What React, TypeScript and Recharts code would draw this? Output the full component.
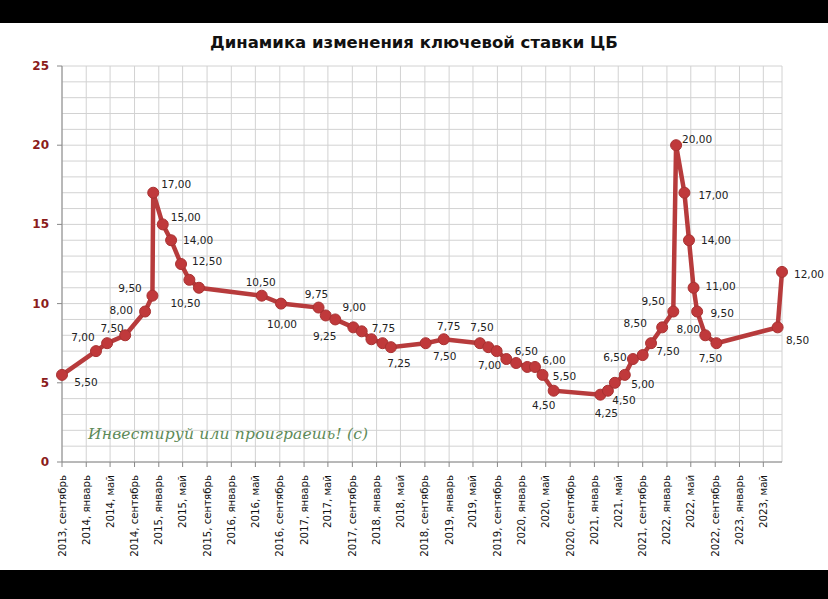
import React from 'react';
import { LineChart, Line, XAxis, YAxis, CartesianGrid } from 'recharts';

const rateDates = [
  '2013-09-13', '2014-03-03', '2014-04-28', '2014-07-28', '2014-11-05', '2014-12-12', '2014-12-16',
  '2015-02-02', '2015-03-16', '2015-05-05', '2015-06-16', '2015-08-03', '2016-06-14', '2016-09-19',
  '2017-03-27', '2017-05-02', '2017-06-19', '2017-09-18', '2017-10-30', '2017-12-18', '2018-02-12',
  '2018-03-26', '2018-09-17', '2018-12-17', '2019-06-17', '2019-07-29', '2019-09-09', '2019-10-28',
  '2019-12-16', '2020-02-10', '2020-03-20', '2020-04-27', '2020-06-22', '2021-02-12', '2021-03-22',
  '2021-04-26', '2021-06-15', '2021-07-26', '2021-09-13', '2021-10-25', '2021-12-20', '2022-02-14',
  '2022-02-28', '2022-04-11', '2022-05-04', '2022-05-27', '2022-06-14', '2022-07-25', '2022-09-19',
  '2023-07-24', '2023-08-15',
];

const rateValues = [
  5.5, 7.0, 7.5, 8.0, 9.5, 10.5, 17.0,
  15.0, 14.0, 12.5, 11.5, 11.0, 10.5, 10.0,
  9.75, 9.25, 9.0, 8.5, 8.25, 7.75, 7.5,
  7.25, 7.5, 7.75, 7.5, 7.25, 7.0, 6.5,
  6.25, 6.0, 6.0, 5.5, 4.5, 4.25, 4.5,
  5.0, 5.5, 6.5, 6.75, 7.5, 8.5, 9.5,
  20.0, 17.0, 14.0, 11.0, 9.5, 8.0, 7.5,
  8.5, 12.0,
];

// label offsets (dx, dy) of each value label relative to its point; null = no label
const labelOffsets: ([number, number] | null)[] = [
  [24, 7], [-13, -14], [5, -15], [-4, -25], [-15, -24], [33, 7], [23, -9],
  [23, -7], [27, 0], [26, -3], null, null, [-1, -14], [1, 20],
  [-2, -14], [-1, 21], [19, -12], null, null, [12, -11], null,
  [8, 16], [19, 13], [5, -13], [2, -16], null, [-7, 14], [20, -8],
  null, null, [19, -7], [22, 1], [-10, 14], [6, 18], [16, 9],
  [28, 1], null, [-18, -2], null, [17, 8], [-27, -4], [-20, -11],
  [21, -6], [29, 2], [27, 0], [27, -2], [25, 1], [-17, -6], [-6, 15],
  [20, 13], [27, 2],
];

const tickDates = [
  '2013-09-13', '2014-01-13', '2014-05-13', '2014-09-13', '2015-01-13', '2015-05-13', '2015-09-13',
  '2016-01-13', '2016-05-13', '2016-09-13', '2017-01-13', '2017-05-13', '2017-09-13', '2018-01-13',
  '2018-05-13', '2018-09-13', '2019-01-13', '2019-05-13', '2019-09-13', '2020-01-13', '2020-05-13',
  '2020-09-13', '2021-01-13', '2021-05-13', '2021-09-13', '2022-01-13', '2022-05-13', '2022-09-13',
  '2023-01-13', '2023-05-13',
];

const monthNames = [
  'январь', 'февраль', 'март', 'апрель', 'май', 'июнь',
  'июль', 'август', 'сентябрь', 'октябрь', 'ноябрь', 'декабрь',
];

const yTicks = [0, 1, 2, 3, 4, 5, 6, 7, 8, 9, 10, 11, 12, 13, 14, 15, 16, 17, 18, 19, 20, 21, 22, 23, 24, 25];

const toTime = (s: string) => {
  const [y, m, d] = s.split('-').map(Number);
  return Date.UTC(y, m - 1, d);
};

const data = rateDates.map((d, i) => ({ t: toTime(d), rate: rateValues[i] }));
const xTicks = tickDates.map(toTime);
const tickLabelOf = (t: number) => {
  const dt = new Date(t);
  return `${dt.getUTCFullYear()}, ${monthNames[dt.getUTCMonth()]}`;
};

const fmt = (v: number) => v.toFixed(2).replace('.', ',');

const LINE = '#b73b3c';
const FONT = '"DejaVu Sans", Verdana, sans-serif';

const XTick = (props: any) => {
  const { x, payload } = props;
  return (
    <text
      x={x}
      y={475}
      transform={`rotate(-90, ${x}, 475)`}
      textAnchor="end"
      dominantBaseline="central"
      fontFamily={FONT}
      fontSize={10.2}
      fill="#111"
    >
      {tickLabelOf(payload.value)}
    </text>
  );
};

const YTick = (props: any) => {
  const { y, payload } = props;
  if (payload.value % 5 !== 0) return <g />;
  return (
    <g>
      <line x1={57} x2={62} y1={y} y2={y} stroke="#888" />
      <text
        x={49}
        y={y}
        textAnchor="end"
        dominantBaseline="central"
        fontFamily={FONT}
        fontWeight="bold"
        fontSize={12}
        fill="#8b1c1c"
      >
        {payload.value}
      </text>
    </g>
  );
};

const Dot = (props: any) => {
  const { cx, cy, index, value } = props;
  const off = labelOffsets[index];
  const v = Array.isArray(value) ? value[1] : value;
  return (
    <g key={`d${index}`}>
      <circle cx={cx} cy={cy} r={5.5} fill="#c0393b" stroke="#a83232" strokeWidth={1} />
      {off && (
        <text
          x={cx + off[0]}
          y={cy + off[1]}
          textAnchor="middle"
          dominantBaseline="central"
          fontFamily={FONT}
          fontSize={10.5}
          fill="#222"
        >
          {fmt(rateValues[index] ?? v)}
        </text>
      )}
    </g>
  );
};

export default function App() {
  return (
    <div style={{ position: 'absolute', left: 0, top: 0, width: 828, height: 599, background: '#fff', overflow: 'hidden' }}>
      <div style={{ position: 'absolute', left: 0, top: 0, width: 828, height: 23, background: '#000' }} />
      <div style={{ position: 'absolute', left: 0, top: 570, width: 828, height: 29, background: '#000' }} />
      <div
        style={{
          position: 'absolute', left: 0, top: 31, width: 828, textAlign: 'center',
          fontFamily: FONT, fontWeight: 'bold', fontSize: 16.5, color: '#111', lineHeight: '24px',
        }}
      >
        Динамика изменения ключевой ставки ЦБ
      </div>
      <div style={{ position: 'absolute', left: 0, top: 0 }}>
        <LineChart width={828} height={599} data={data} margin={{ top: 66, right: 46, bottom: 0, left: 0 }}>
          <CartesianGrid stroke="#d2d2d2" strokeWidth={1} />
          <XAxis
            dataKey="t"
            type="number"
            domain={[toTime('2013-09-13'), toTime('2023-08-15')]}
            ticks={xTicks}
            height={137}
            interval={0}
            tick={<XTick />}
            tickLine={{ stroke: '#888' }}
            tickSize={5}
            axisLine={{ stroke: '#888' }}
          />
          <YAxis
            type="number"
            domain={[0, 25]}
            ticks={yTicks}
            width={62}
            interval={0}
            tick={<YTick />}
            tickLine={false}
            axisLine={{ stroke: '#888' }}
          />
          <Line
            type="linear"
            dataKey="rate"
            stroke={LINE}
            strokeWidth={4.5}
            dot={<Dot />}
            activeDot={false}
            isAnimationActive={false}
          />
        </LineChart>
      </div>
      <div
        style={{
          position: 'absolute', left: 88, top: 425, fontFamily: '"DejaVu Serif", serif', fontStyle: 'italic',
          fontSize: 15.5, color: '#5d8a58', whiteSpace: 'nowrap', letterSpacing: 0.2,
        }}
      >
        Инвестируй или проиграешь! (с)
      </div>
    </div>
  );
}
